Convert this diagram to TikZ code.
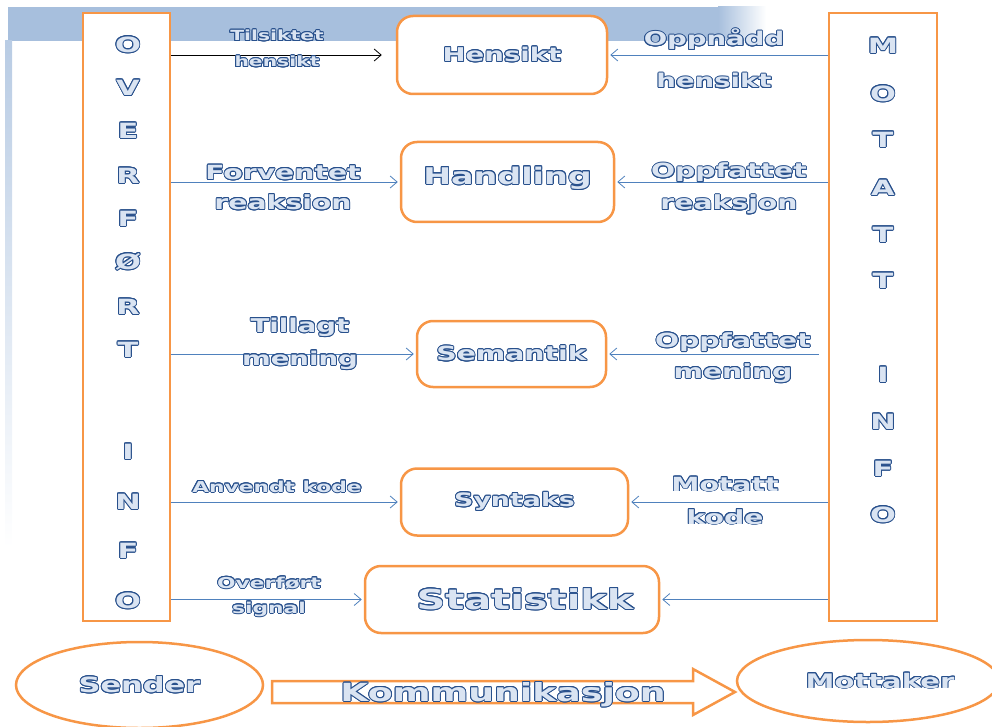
\documentclass[tikz,border=0pt]{standalone}
\usepackage{fontspec}
\usepackage{contour}
\usetikzlibrary{arrows.meta,shapes.geometric}

\newfontfamily\wordart[FakeStretch=1.45]{DejaVu Sans Bold}
\definecolor{kant}{RGB}{247,150,70}
\definecolor{pil}{RGB}{79,129,189}
\definecolor{skrift}{RGB}{40,80,140}
\definecolor{fyll}{RGB}{218,228,242}
\definecolor{band}{RGB}{167,191,221}
\contourlength{0.9pt}
\newcommand\wa[1]{\contour{skrift}{#1}}

\begin{document}
\begin{tikzpicture}[x=1pt,y=-1pt,
  kol/.style={draw=kant,line width=2.5pt,fill=white,minimum width=#1,minimum height=608pt},
  boks/.style={draw=kant,line width=2.5pt,rounded corners=16pt,fill=white,text=fyll,font=\wordart},
  rund/.style={ellipse,draw=kant,line width=2.5pt,text=fyll,font=\wordart},
  bokstav/.style={text=fyll,font=\wordart\fontsize{21}{25}\selectfont},
  etikett/.style={text=fyll,align=center,font=\wordart\fontsize{#1}{24}\selectfont},
  conn/.style={draw=pil,line width=0.8pt,-{Straight Barb[length=7pt,width=12pt]},shorten >=2pt}]

\useasboundingbox (0,0) rectangle (992,727);

% bakgrunn
\fill[band] (8,7) rectangle (718,41);
\shade[left color=band,right color=white] (718,7) rectangle (766,41);
\shade[top color=band!80,bottom color=white] (5,41) rectangle (12,548);

% sender og mottaker side
\node[kol=87pt] (ov) at (126.5,317) {};
\node[kol=108pt] (mo) at (883,317) {};

 \foreach \ch/\y [count=\i] in {O/45,V/88,E/131,R/176,F/219,Ø/262,R/307,T/350,I/452,N/502,F/551,O/601}
 {\node[bokstav] (ov\i) at (128,\y) {\wa{\ch}};}
 \foreach \ch/\y [count=\i] in {M/46,O/94,T/140,A/188,T/235,T/281,I/375,N/422,F/469,O/515}
 {\node[bokstav] (mo\i) at (883,\y) {\wa{\ch}};}

% nivaa
\node[boks,minimum width=210pt,minimum height=78pt] (hen) at (502,55) {\fontsize{19}{23}\selectfont\wa{Hensikt}};
\node[boks,minimum width=213pt,minimum height=80pt,text depth=13pt] (han) at (507.5,182) {\fontsize{23}{28}\selectfont\wa{Handling}};
\node[boks,minimum width=189pt,minimum height=66pt] (sem) at (511.5,354) {\fontsize{19.5}{24}\selectfont\wa{Semantik}};
\node[boks,minimum width=227pt,minimum height=67pt] (syn) at (514.5,502) {\fontsize{18.5}{23}\selectfont\wa{Syntaks}};
\node[boks,minimum width=294pt,minimum height=67pt] (sta) at (512,599.5) {\hspace*{26pt}\fontsize{27.5}{33}\selectfont\wa{Statistikk}};

% piler
\draw[conn,draw=black,shorten >=14pt] (ov.east |- hen.west) -- (hen.west);
\foreach \b in {han,sem,syn,sta}
 {\draw[conn] (ov.east |- \b.west) -- (\b.west);}
\foreach \b/\s in {hen/0,han/0,sem/9,syn/0,sta/0}
 {\draw[conn,shorten <=\s pt] (mo.west |- \b.east) -- (\b.east);}
% \draw[conn] (mo.west |- sem.east) -- (sem.east);

\node[etikett=14] (tilsiktet) at (277,49) {\wa{Tilsiktet}\\[2pt]\wa{hensikt}};
\node[etikett=19] (oppnaadd) at (714,59) {\wa{Oppnådd}\\[18pt]\wa{hensikt}};
\node[etikett=19.5] (forventet) at (283,188) {\wa{Forventet}\\[6pt]\wa{reaksion}};
\node[etikett=19.5] (oppfattetr) at (729,189) {\wa{Oppfattet}\\[8pt]\wa{reaksjon}};
\node[etikett=19] (tillagt) at (300,344) {\wa{Tillagt}\\[9pt]\wa{mening}};
\node[etikett=19.5] (oppfattetm) at (733,358) {\wa{Oppfattet}\\[7pt]\wa{mening}};
\node[etikett=15] (anvendt) at (277,487) {\wa{Anvendt kode}};
\node[etikett=19.5] (motatt) at (725,501) {\wa{Motatt}\\[9pt]\wa{kode}};
\node[etikett=15] (overfort) at (269,597) {\wa{Overført}\\[1pt]\wa{signal}};

% kommunikasjon
\node[rund,minimum width=247pt,minimum height=86pt] (sen) at (139.5,685) {\fontsize{21}{25}\selectfont\wa{Sender}};
\node[rund,minimum width=262pt,minimum height=82pt] (mot) at (868,681) {\hspace*{24pt}\fontsize{20}{24}\selectfont\wa{Mottaker}};
\draw[draw=kant,line width=2.5pt] (272,681) -- (693,681) -- (693,669) -- (735,692) -- (693,715) -- (693,703) -- (272,703) -- cycle;
\node[text=fyll,font=\wordart\fontsize{25}{30}\selectfont] (komm) at (503,695) {\wa{Kommunikasjon}};

\end{tikzpicture}
\end{document}
